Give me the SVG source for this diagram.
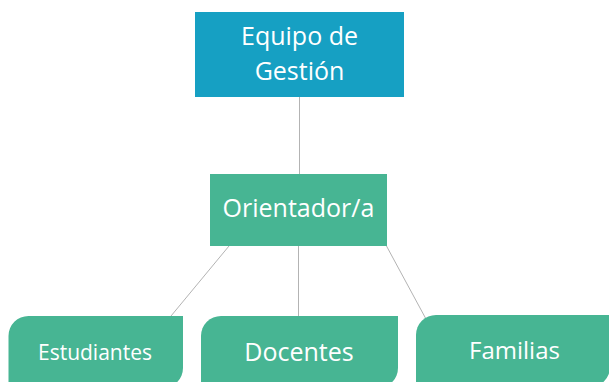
<svg xmlns="http://www.w3.org/2000/svg" width="609" height="382" viewBox="0 0 609 382">
<style>
.t{fill:#ffffff;font-family:"Open Sans","Noto Sans",sans-serif;text-anchor:middle}
.g{fill:#47b593}
.c{stroke:#b3b3b3;stroke-width:1;fill:none}
</style>
<rect width="609" height="382" fill="#ffffff"/>
<g id="connectors">
<line class="c" x1="299.5" y1="97" x2="299.5" y2="174"/>
<line class="c" x1="229" y1="246" x2="171" y2="316"/>
<line class="c" x1="298.5" y1="246" x2="298.5" y2="316"/>
<line class="c" x1="386.5" y1="246" x2="426" y2="319"/>
</g>
<g id="equipo">
<rect x="195" y="12" width="209" height="85" fill="#16a0c3"/>
<text class="t" x="299.5" y="45" font-size="25">Equipo de</text>
<text class="t" x="299.5" y="80" font-size="25">Gestión</text>
</g>
<g id="orientador">
<rect class="g" x="210" y="174" width="177" height="72"/>
<text class="t" x="298.5" y="217" font-size="25">Orientador/a</text>
</g>
<g id="estudiantes">
<path class="g" d="M8.5,336 A20,20 0 0 1 28.5,316 H183 V368 A20,20 0 0 1 163,388 H8.5 Z"/>
<text class="t" x="95" y="360" font-size="21">Estudiantes</text>
</g>
<g id="docentes">
<path class="g" d="M201,336 A20,20 0 0 1 221,316 H398 V368 A20,20 0 0 1 378,388 H201 Z"/>
<text class="t" x="299" y="361" font-size="25">Docentes</text>
</g>
<g id="familias">
<path class="g" d="M416,335 A20,20 0 0 1 436,315 H610 V367 A20,20 0 0 1 590,387 H416 Z"/>
<text class="t" x="514.5" y="359" font-size="24">Familias</text>
</g>
</svg>
